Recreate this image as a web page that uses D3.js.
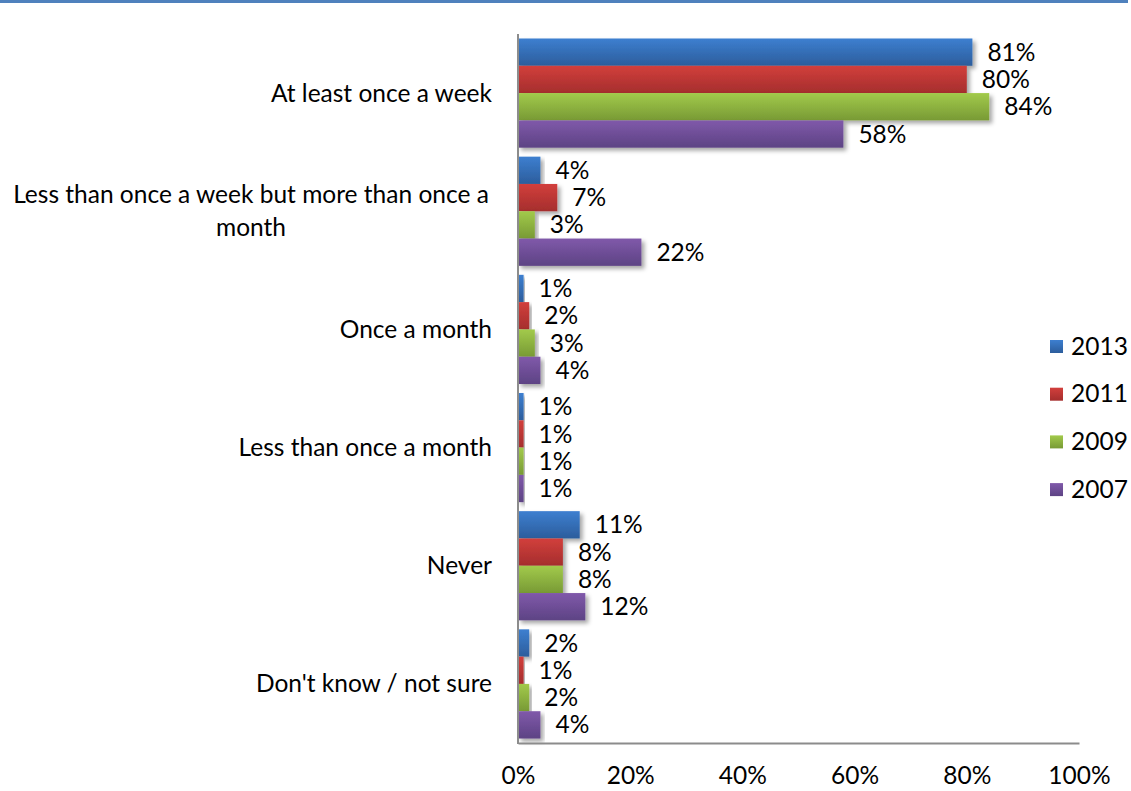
<!DOCTYPE html>
<html>
<head>
<meta charset="utf-8">
<script src="https://cdn.jsdelivr.net/npm/d3@7"></script>
<style>
  html, body { margin: 0; padding: 0; background: #fff; }
  svg { display: block; }
  text { font-family: Lato, "Open Sans", sans-serif; fill: #000; }
</style>
</head>
<body>
<svg id="chart" width="1131" height="791"></svg>
<script>
// How often: survey responses by year (percent)
const categories = [
  "At least once a week",
  "Less than once a week but more than once a month",
  "Once a month",
  "Less than once a month",
  "Never",
  "Don't know / not sure"
];
const years = ["2013", "2011", "2009", "2007"];
const values2013 = [81, 4, 1, 1, 11, 2];
const values2011 = [80, 7, 2, 1, 8, 1];
const values2009 = [84, 3, 3, 1, 8, 2];
const values2007 = [58, 22, 4, 1, 12, 4];
const xTicks = [0, 20, 40, 60, 80, 100];

const seriesValues = [values2013, values2011, values2009, values2007];
const palette = [
  { top: "#3d7fd0", bottom: "#2c5d9c" },
  { top: "#d23f3c", bottom: "#a52e2d" },
  { top: "#a2ca4b", bottom: "#789a35" },
  { top: "#8059aa", bottom: "#5d4384" }
];
const FONT = 24.5;

const svg = d3.select("#chart");
const margin = { left: 518, top: 34 };

// header rule
svg.append("line")
  .attr("x1", 0).attr("x2", 1128)
  .attr("y1", 1.5).attr("y2", 1.5)
  .attr("stroke", "#4f81bd").attr("stroke-width", 3);

const defs = svg.append("defs");
palette.forEach((c, i) => {
  const g = defs.append("linearGradient")
    .attr("id", "grad" + i).attr("x1", 0).attr("x2", 0).attr("y1", 0).attr("y2", 1);
  g.append("stop").attr("offset", "0%").attr("stop-color", c.top);
  g.append("stop").attr("offset", "100%").attr("stop-color", c.bottom);
});
const shadow = defs.append("filter").attr("id", "shadow")
  .attr("x", "-10%").attr("y", "-20%").attr("width", "130%").attr("height", "160%");
shadow.append("feDropShadow")
  .attr("dx", 3).attr("dy", 3).attr("stdDeviation", 2)
  .attr("flood-color", "#000").attr("flood-opacity", 0.35);

const x = d3.scaleLinear().domain([0, 100]).range([margin.left, 1079]);
const y = d3.scaleBand().domain(categories).range([margin.top, 743]).paddingInner(0.076).paddingOuter(0.038);
const ySub = d3.scaleBand().domain(years).range([0, y.bandwidth()]);

// bars
const groups = svg.append("g").selectAll("g")
  .data(categories).join("g")
  .attr("transform", d => `translate(0,${y(d)})`);

years.forEach((yr, si) => {
  groups.append("rect")
    .attr("x", x(0))
    .attr("y", ySub(yr))
    .attr("width", (d, ci) => x(seriesValues[si][ci]) - x(0))
    .attr("height", ySub.bandwidth())
    .attr("fill", `url(#grad${si})`)
    .attr("filter", "url(#shadow)");
});

// value labels
years.forEach((yr, si) => {
  groups.append("text")
    .attr("x", (d, ci) => x(seriesValues[si][ci]) + 15)
    .attr("y", ySub(yr) + ySub.bandwidth() / 2)
    .attr("dy", "0.35em")
    .attr("font-size", FONT)
    .text((d, ci) => seriesValues[si][ci] + "%");
});

// axes
const xAxis = d3.axisBottom(x).tickValues(xTicks).tickFormat(d => d + "%").tickSize(0).tickPadding(24);
const gx = svg.append("g").attr("transform", "translate(0,743)").call(xAxis);
gx.select(".domain").attr("stroke", "#8c8c8c").attr("stroke-width", 2);
gx.selectAll("text").attr("font-size", FONT).attr("font-family", "Lato, sans-serif").attr("fill", "#000").attr("dy", "0.71em");

svg.append("line")
  .attr("x1", x(0)).attr("x2", x(0))
  .attr("y1", margin.top).attr("y2", 744)
  .attr("stroke", "#8c8c8c").attr("stroke-width", 2);

// category labels, wrapped where needed
const labelLines = {
  "Less than once a week but more than once a month": ["Less than once a week but more than once a", "month"]
};
const labelG = svg.append("g");
categories.forEach(c => {
  const lines = labelLines[c] || [c];
  const cy = y(c) + y.bandwidth() / 2;
  const lh = 33;
  const t = labelG.append("text")
    .attr("font-size", FONT)
    .attr("text-anchor", lines.length > 1 ? "middle" : "end");
  lines.forEach((ln, i) => {
    t.append("tspan")
      .attr("x", lines.length > 1 ? 251 : 492)
      .attr("y", cy + (i - (lines.length - 1) / 2) * lh)
      .attr("dy", "0.35em")
      .text(ln);
  });
});

// legend
const legend = svg.append("g");
years.forEach((yr, i) => {
  const ly = 346 + i * 47.7;
  legend.append("rect")
    .attr("x", 1050).attr("y", ly - 6)
    .attr("width", 13).attr("height", 13)
    .attr("fill", `url(#grad${i})`);
  legend.append("text")
    .attr("x", 1071).attr("y", ly).attr("dy", "0.35em")
    .attr("font-size", FONT)
    .text(yr);
});
</script>
</body>
</html>
